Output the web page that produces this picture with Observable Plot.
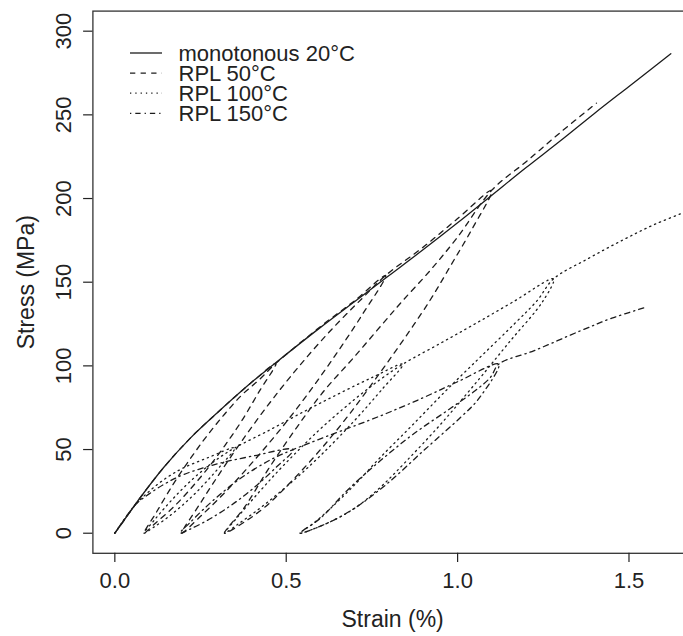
<!DOCTYPE html>
<html><head><meta charset="utf-8">
<script src="https://cdn.jsdelivr.net/npm/d3@7"></script>
<script src="https://cdn.jsdelivr.net/npm/@observablehq/plot@0.6"></script>
<style>
html,body{margin:0;padding:0;background:#fff;}
#chart{width:683px;height:636px;overflow:hidden;position:relative;}
</style></head><body><div id="chart"></div>
<script>
const seriesNames = ["monotonous 20°C", "RPL 50°C", "RPL 100°C", "RPL 150°C"];
const xTicks = [0, 0.5, 1.0, 1.5];
const yTicks = [0, 50, 100, 150, 200, 250, 300];

const mono20Strain = [0, 0.04, 0.075, 0.143, 0.221, 0.299, 0.405, 0.464, 0.6, 0.7, 0.8, 0.9, 1.0, 1.1, 1.2, 1.3, 1.4, 1.5, 1.622];
const mono20Stress = [0, 11.5, 21.5, 39.4, 57, 72, 91.2, 101, 123, 138.5, 154, 169.5, 185.5, 202, 218.5, 234.5, 251, 267, 286.5];

const rpl50Strain = [0, 0.04, 0.075, 0.143, 0.221, 0.299, 0.405, 0.47,
  0.42, 0.37, 0.32, 0.27, 0.22, 0.17, 0.12, 0.085,
  0.12, 0.17, 0.22, 0.27, 0.32, 0.37, 0.42, 0.47,
  0.6, 0.7, 0.79,
  0.72, 0.64, 0.56, 0.48, 0.40, 0.32, 0.25, 0.195,
  0.25, 0.32, 0.40, 0.48, 0.56, 0.64, 0.72, 0.79,
  0.9, 1.0, 1.10,
  1.04, 0.98, 0.919, 0.84, 0.76, 0.68, 0.60, 0.52, 0.44, 0.38, 0.32,
  0.38, 0.45, 0.53, 0.61, 0.697, 0.785, 0.84, 0.92, 1.0, 1.10,
  1.2, 1.3, 1.405];
const rpl50Stress = [0, 11.5, 21.5, 39.4, 57, 72, 91.2, 101.5,
  84.3, 67.1, 52.1, 38.5, 26.3, 15.4, 6.3, 0,
  12.1, 29.2, 44.5, 58.5, 71.1, 82.5, 91.5, 101.5,
  123.5, 139, 154,
  130, 105.4, 82.4, 61.3, 42, 24.1, 10.1, 0,
  18.1, 40.1, 63.6, 85.3, 105.2, 123.4, 140, 154,
  171, 188, 205,
  181, 160, 139, 115, 92, 70, 50, 32, 16, 7, 0,
  16, 39, 63, 85, 105, 126, 139, 157, 177, 205,
  222, 239.5, 257];

const rpl100Strain = [0, 0.03, 0.06, 0.1, 0.15, 0.2, 0.27, 0.35,
  0.31, 0.27, 0.23, 0.19, 0.15, 0.115, 0.085,
  0.115, 0.15, 0.19, 0.23, 0.27, 0.31, 0.35,
  0.45, 0.55, 0.65, 0.75, 0.84,
  0.78, 0.72, 0.66, 0.60, 0.54, 0.48, 0.42, 0.36, 0.32,
  0.36, 0.42, 0.48, 0.54, 0.60, 0.66, 0.72, 0.78, 0.84,
  0.95, 1.05, 1.16, 1.28,
  1.25, 1.15, 1.05, 0.95, 0.85, 0.775, 0.70, 0.62, 0.54,
  0.58, 0.63, 0.70, 0.775, 0.87, 0.97, 1.07, 1.17, 1.232, 1.28,
  1.38, 1.48, 1.58, 1.69];
const rpl100Stress = [0, 9, 17, 25, 33, 39, 45, 51,
  40.7, 31.4, 22.9, 15.4, 8.8, 3.8, 0,
  7.8, 16.2, 25, 32.9, 39.8, 45.9, 51,
  61.5, 72.5, 83, 93, 101,
  86.1, 72, 58.8, 46.4, 34.9, 24.3, 14.4, 5.5, 0,
  10.1, 24.4, 37.9, 50.5, 62.4, 73.2, 83.4, 92.7, 101,
  113.5, 125, 138, 152,
  139, 114, 89, 65, 43, 27.5, 15, 6, 0,
  6, 15, 29, 45.4, 65, 86, 106, 126, 139, 152,
  164, 175, 185, 194];

const rpl150Strain = [0, 0.03, 0.06, 0.1, 0.15, 0.2, 0.3, 0.4, 0.52,
  0.47, 0.42, 0.37, 0.32, 0.27, 0.22, 0.19,
  0.22, 0.27, 0.32, 0.37, 0.42, 0.47, 0.52,
  0.62, 0.777, 0.9, 1.0, 1.12,
  1.06, 1.009, 0.901, 0.794, 0.7, 0.62, 0.54,
  0.6, 0.68, 0.775, 0.872, 0.97, 1.05, 1.096, 1.12,
  1.222, 1.359, 1.45, 1.543];
const rpl150Stress = [0, 9, 17, 23.5, 30, 35, 41.5, 46, 50,
  39.3, 29.7, 21.3, 14, 7.7, 2.5, 0,
  6.5, 16.5, 25.4, 33.3, 39.9, 45.5, 50,
  58, 70.3, 81, 90.5, 101,
  80, 69.3, 49.4, 29.5, 15, 6, 0,
  9, 26, 43.4, 59.4, 73.3, 85, 93.2, 101,
  109, 121, 128.5, 134.6];

const dashes = ["none", "5.3,5.3", "1.3,4", "1.3,4,5.3,4"];
const strains = [mono20Strain, rpl50Strain, rpl100Strain, rpl150Strain];
const stresses = [mono20Stress, rpl50Stress, rpl100Stress, rpl150Stress];
const series = seriesNames.map((name, i) => strains[i].map((s, j) => ({strain: s, stress: stresses[i][j], name})));

const font = "'Liberation Sans', Arial, Helvetica, sans-serif";
const ink = "#1c1c1c";

const plot = Plot.plot({
  width: 683, height: 636,
  marginLeft: 92.4, marginRight: -1.7, marginTop: 10.6, marginBottom: 83.2,
  style: {fontFamily: font, fontSize: "22px", color: "#222", background: "#fff", maxWidth: "none"},
  x: {domain: [-0.064, 1.664], label: null},
  y: {domain: [-12, 312], label: null},
  marks: [
    Plot.frame({stroke: "#333", strokeWidth: 1.3}),
    Plot.axisX(xTicks, {tickSize: 9.3, tickPadding: 9.4, tickFormat: d => d.toFixed(1), fontSize: 22, label: null, strokeWidth: 1.2}),
    Plot.axisY(yTicks, {tickSize: 9.3, tickPadding: 12.4, tickRotate: -90, fontSize: 22, label: null, strokeWidth: 1.2}),
    ...series.map((d, i) => Plot.line(d, {x: "strain", y: "stress", stroke: ink, strokeWidth: 1.3, strokeDasharray: dashes[i] === "none" ? null : dashes[i], clip: true, curve: "catmull-rom"})),
    Plot.text(["Strain (%)"], {frameAnchor: "bottom", dy: 73.2, dx: 3.6, lineAnchor: "bottom", textAnchor: "middle", fontSize: 23}),
    Plot.text(["Stress (MPa)"], {frameAnchor: "left", dx: -59.4, rotate: -90, lineAnchor: "bottom", textAnchor: "middle", fontSize: 23})
  ]
});

const svg = d3.select(plot);
const lg = svg.append("g").attr("font-family", font).attr("font-size", 22).attr("fill", "#222").attr("text-anchor", "start");
seriesNames.forEach((name, i) => {
  const yy = 53 + i * 20.1;
  lg.append("line").attr("x1", 130).attr("x2", 162).attr("y1", yy).attr("y2", yy)
    .attr("stroke", ink).attr("stroke-width", 1.3).attr("stroke-dasharray", dashes[i] === "none" ? null : dashes[i]);
  lg.append("text").attr("x", 178.5).attr("y", yy + 7.5).text(name);
});
document.getElementById("chart").appendChild(plot);
</script></body></html>
